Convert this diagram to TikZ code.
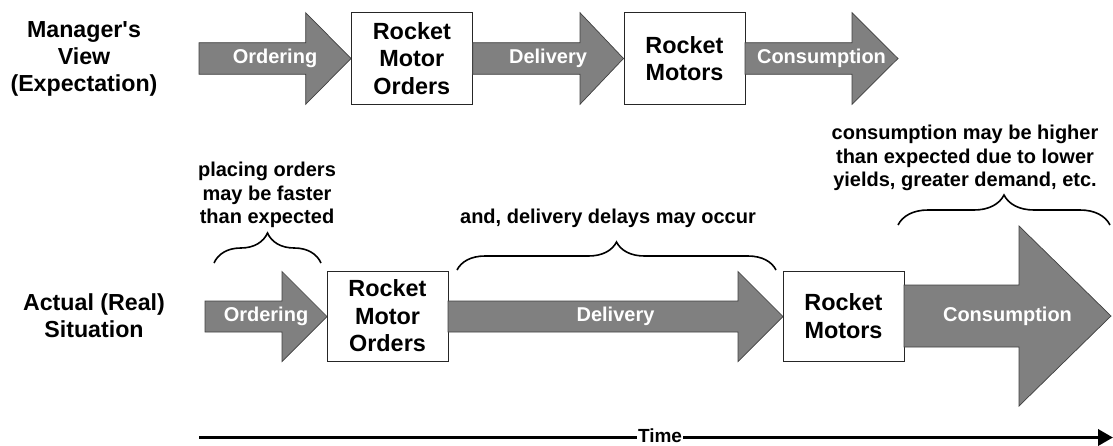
\documentclass[tikz,border=0pt]{standalone}
\usepackage{fontspec}
\setmainfont{Liberation Sans}
\usetikzlibrary{decorations.pathreplacing,arrows.meta}
\definecolor{arrowfill}{HTML}{808080}
\definecolor{arrowline}{HTML}{404040}
% block arrow: #1 start x, #2 head base x, #3 tip x, #4 centre y, #5 body half height, #6 head half height
\newcommand\blockarrow[6]{%
  \filldraw[blockarr] (#1,#4-#5) -- (#2,#4-#5) -- (#2,#4-#6) -- (#3,#4)
    -- (#2,#4+#6) -- (#2,#4+#5) -- (#1,#4+#5) -- cycle;}
\tikzset{
  blockarr/.style={fill=arrowfill, draw=arrowline, line width=0.7pt, line join=miter},
  rbox/.style={draw=black!85, line width=0.8pt, fill=white, align=center,
    font=\fontsize{23.4}{27.4}\selectfont\bfseries, inner sep=0pt},
  atext/.style={text=white, font=\fontsize{20}{22}\selectfont\bfseries, inner sep=0pt},
  note/.style={align=center, font=\fontsize{20}{23.7}\selectfont\bfseries, inner sep=0pt},
  rowlbl/.style={align=center, font=\fontsize{23.2}{27}\selectfont\bfseries, inner sep=0pt},
  brc/.style={decorate, decoration={brace, amplitude=#1, aspect=0.5}, line width=1.6pt},
  timeaxis/.style={line width=3.6pt, black},
}
\begin{document}
\begin{tikzpicture}[x=1pt, y=-1pt]
\useasboundingbox (0,0) rectangle (1113,445);

% ---------- Manager's view ----------
\node[rowlbl] (mlbl) at (84,59) {Manager\textquotesingle s\\View\\(Expectation)};
\blockarrow{199}{305.7}{351}{58.5}{15.8}{45.8}
\node[atext] (mord) at (275,58.5) {Ordering};
\node[rbox, minimum width=121.7pt, minimum height=91.6pt] (mbox1) at (411.85,58.5) {Rocket\\Motor\\Orders};
\blockarrow{472.7}{580}{623.5}{58.5}{15.8}{45.8}
\node[atext] (mdel) at (548,58.5) {Delivery};
\node[rbox, minimum width=121pt, minimum height=91.6pt] (mbox2) at (684.5,58.5) {Rocket\\Motors};
\blockarrow{745}{852}{898}{58.5}{15.8}{45.8}
\node[atext] (mcon) at (821.5,58.5) {Consumption};

% ---------- Actual situation ----------
\node[rowlbl] (albl) at (94,316) {Actual (Real)\\Situation};
\blockarrow{205}{282}{327}{316.5}{15.5}{45}
\node[atext] (aord) at (266,316.5) {Ordering};
\node[rbox, minimum width=121pt, minimum height=90pt] (abox1) at (387.5,316) {Rocket\\Motor\\Orders};
\blockarrow{448}{738}{783}{316.5}{15.5}{45}
\node[atext] (adel) at (615.5,316.5) {Delivery};
\node[rbox, minimum width=121pt, minimum height=90pt] (abox2) at (843.5,316) {Rocket\\Motors};
\blockarrow{904}{1019}{1111}{316}{31}{90}
\node[atext] (acon) at (1007.5,316) {Consumption};

% ---------- braces and notes ----------
\coordinate (b1l) at (214,263);
\coordinate (b1r) at (321,263);
\draw[brc=30] (b1l) -- (b1r);
\node[note] (n1) at (267,195) {placing orders\\may be faster\\than expected};

\coordinate (b2l) at (457,270);
\coordinate (b2r) at (776,270);
\draw[brc=28] (b2l) -- (b2r);
\node[note] (n2) at (608,218) {and, delivery delays may occur};

\coordinate (b3l) at (898,225);
\coordinate (b3r) at (1110,225);
\draw[brc=30] (b3l) -- (b3r);
\node[note] (n3) at (965,158) {consumption may be higher\\than expected due to lower\\yields, greater demand, etc.};

% ---------- time axis ----------
\coordinate (tstart) at (199,437.5);
\coordinate (tend) at (1113,437.5);
\node[font=\fontsize{19}{22}\selectfont\bfseries, inner sep=1pt] (time) at (660,436) {Time};
\draw[timeaxis] (tstart) -- (time.west |- tstart);
\draw[timeaxis, -{Triangle[length=15pt,width=16pt]}] (time.east |- tstart) -- (tend);
\end{tikzpicture}
\end{document}
